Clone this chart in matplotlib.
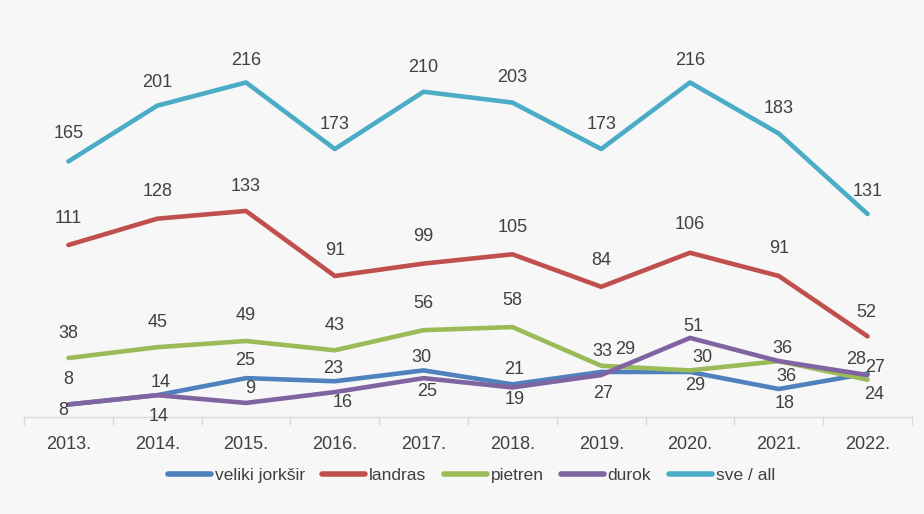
import matplotlib.pyplot as plt
from matplotlib.ticker import FixedLocator

plt.rcParams['font.family'] = ['Liberation Sans Narrow', 'Liberation Sans', 'DejaVu Sans']

# podaci
godine = ["2013.", "2014.", "2015.", "2016.", "2017.", "2018.", "2019.", "2020.", "2021.", "2022."]
veliki_jorksir = [8, 14, 25, 23, 30, 21, 29, 29, 18, 28]
landras = [111, 128, 133, 91, 99, 105, 84, 106, 91, 52]
pietren = [38, 45, 49, 43, 56, 58, 33, 30, 36, 24]
durok = [8, 14, 9, 16, 25, 19, 27, 51, 36, 27]
sve = [165, 201, 216, 173, 210, 203, 173, 216, 183, 131]

serije = [
    ("veliki jorkšir", veliki_jorksir, "#4f81bd"),
    ("landras", landras, "#c0504d"),
    ("pietren", pietren, "#9bbb59"),
    ("durok", durok, "#8064a2"),
    ("sve / all", sve, "#4bacc6"),
]

# pomaci oznaka (px, y prema dolje)
pomaci = {
    "veliki jorkšir": [(0, -25), (3, -13), (-1, -18), (-2, -13), (-2, -13), (2, -15), (24, -22), (5, 14), (6, 15), (-11, -14)],
    "landras": [(0, -27), (0, -27), (0, -24), (0, -25), (0, -27), (0, -27), (0, -26), (0, -28), (0, -27), (-1, -24)],
    "pietren": [(0, -25), (0, -25), (0, -25), (0, -25), (0, -27), (0, -27), (1, -14), (12, -13), (8, 15), (7, 15)],
    "durok": [(-5, 6), (1, 21), (4, -14), (8, 10), (4, 13), (2, 12), (2, 18), (3, -11), (4, -13), (7, -8)],
    "sve / all": [(0, -28), (0, -23), (0, -22), (0, -25), (0, -24), (0, -25), (0, -25), (0, -22), (0, -25), (0, -23)],
}

bg = "#f7f7f7"
txt = "#404040"

fig = plt.figure(figsize=(9.24, 5.14), dpi=100, facecolor=bg)
ax = fig.add_axes([0.026, 0.189, 0.961, 0.753])
ax.set_facecolor(bg)

x = list(range(len(godine)))
for ime, vrijednosti, boja in serije:
    ax.plot(x, vrijednosti, color=boja, lw=3.3, label=ime, solid_capstyle='round')
    for i, v in enumerate(vrijednosti):
        dx, dy = pomaci[ime][i]
        ax.annotate(str(v), (i, v), xytext=(dx, -dy), textcoords='offset pixels',
                    ha='center', va='center', fontsize=13, color=txt)

ax.set_xlim(-0.5, len(godine) - 0.5)
ax.set_ylim(0, 250)
ax.set_yticks([])
for s in ["top", "right", "left"]:
    ax.spines[s].set_visible(False)
ax.spines["bottom"].set_color("#d9d9d9")
ax.spines["bottom"].set_linewidth(1)

ax.set_xticks(x)
ax.set_xticklabels(godine, fontsize=13, color=txt)
ax.tick_params(axis='x', which='major', length=0, pad=14)
ax.xaxis.set_minor_locator(FixedLocator([i - 0.5 for i in range(len(godine) + 1)]))
ax.tick_params(axis='x', which='minor', length=6, color="#d9d9d9", width=1)

leg = fig.legend(loc='center', bbox_to_anchor=(0.51, 1 - 475 / 514), ncol=5, frameon=False,
                 fontsize=12.5, handlelength=2.5, handletextpad=0.2, columnspacing=1.0)
for t in leg.get_texts():
    t.set_color(txt)
for h in leg.get_lines():
    h.set_linewidth(4)

fig.savefig("out.png", dpi=100, facecolor=bg)
